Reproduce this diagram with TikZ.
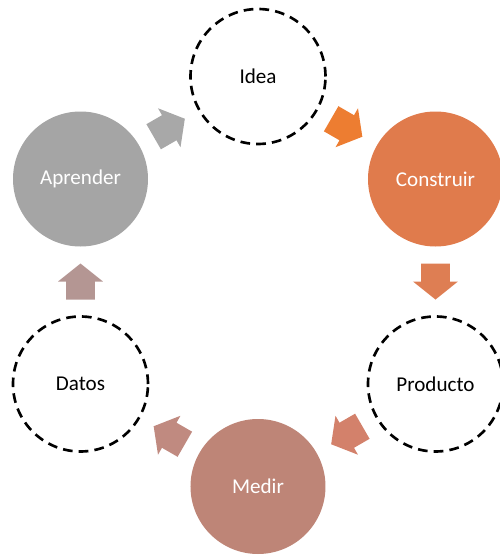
\documentclass[tikz,border=0pt]{standalone}
\usepackage{fontspec}
\setmainfont{Carlito}
\usetikzlibrary{calc}
\definecolor{arrowA}{HTML}{ED7D31}
\definecolor{arrowB}{HTML}{DE7E53}
\definecolor{arrowC}{HTML}{D3816B}
\definecolor{arrowD}{HTML}{C08A80}
\definecolor{arrowE}{HTML}{B49693}
\definecolor{arrowF}{HTML}{A8A8A8}
\definecolor{fillConstruir}{HTML}{E07B4C}
\definecolor{fillMedir}{HTML}{BE8577}
\definecolor{fillAprender}{HTML}{A5A5A5}
\def\blockarrow[#1](#2)(#3){\fill[#1, shift={(#2)}, rotate=#3] (-0.36,-0.29) -- (0,-0.29) -- (0,-0.45) -- (0.36,0) -- (0,0.45) -- (0,0.29) -- (-0.36,0.29) -- cycle;}
\tikzset{
	stage/.style={circle, minimum size=2.7cm, inner sep=0pt, font=\fontsize{12}{14}\selectfont},
	openstage/.style={stage, draw=black, line width=1.5pt, dash pattern=on 5.5pt off 3.5pt},
	fullstage/.style={stage, text=white}
}

\begin{document}
\begin{tikzpicture}
		%%%%% START %%%%%
		\useasboundingbox (0, 0) rectangle (10, 11.1);
		
		\node[openstage] (idea) at (5.16, 9.57) {Idea};
		\node[fullstage, fill=fillConstruir] (construir) at (8.71, 7.52) {Construir};
		\node[openstage] (producto) at (8.71, 3.42) {Producto};
		\node[fullstage, fill=fillMedir] (medir) at (5.16, 1.37) {Medir};
		\node[openstage] (datos) at (1.61, 3.42) {Datos};
		\node[fullstage, fill=fillAprender] (aprender) at (1.61, 7.52) {Aprender};
		
		\coordinate (m1) at ($(idea)!0.5!(construir)$);
		\coordinate (m2) at ($(construir)!0.5!(producto)$);
		\coordinate (m3) at ($(producto)!0.5!(medir)$);
		\coordinate (m4) at ($(medir)!0.5!(datos)$);
		\coordinate (m5) at ($(datos)!0.5!(aprender)$);
		\coordinate (m6) at ($(aprender)!0.5!(idea)$);
		
		\blockarrow[arrowA](m1)(-30);
		\blockarrow[arrowB](m2)(-90);
		\blockarrow[arrowC](m3)(210);
		\blockarrow[arrowD](m4)(150);
		\blockarrow[arrowE](m5)(90);
		\blockarrow[arrowF](m6)(30);
		%%%%% END %%%%%
	\end{tikzpicture}
\end{document}
